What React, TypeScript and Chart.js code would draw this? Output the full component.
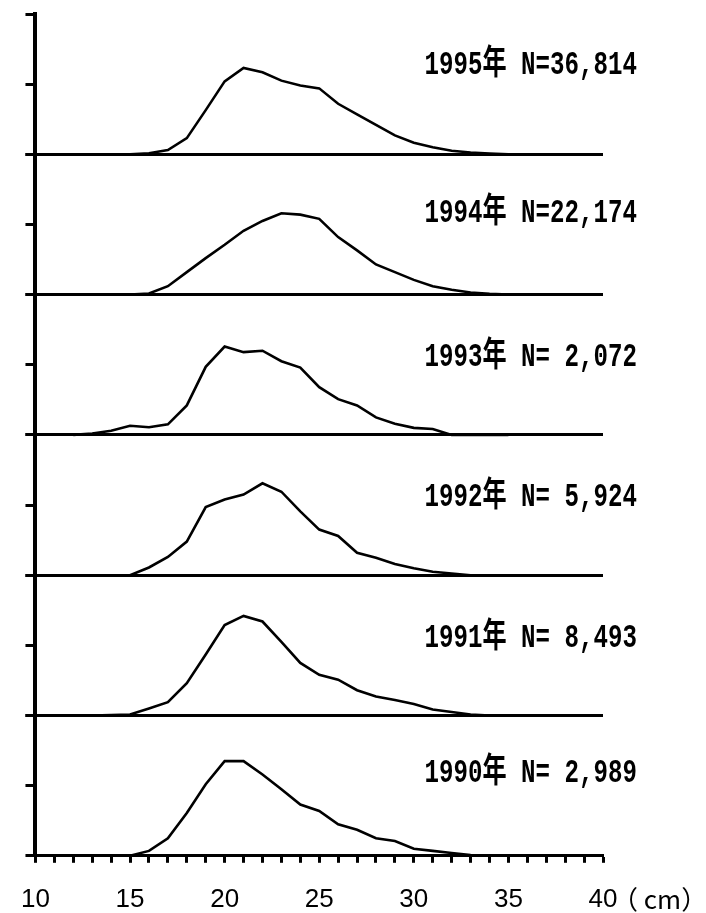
import React, { useEffect, useRef } from 'react';
import { Chart, registerables } from 'chart.js';

Chart.register(...registerables);

// Body length classes (cm)
const lengthsCm = [12, 13, 14, 15, 16, 17, 18, 19, 20, 21, 22, 23, 24, 25, 26, 27, 28, 29, 30, 31, 32, 33, 34, 35];

// Panel titles, top to bottom
const years = ['1995', '1994', '1993', '1992', '1991', '1990'];
const sampleSizes = ['36,814', '22,174', ' 2,072', ' 5,924', ' 8,493', ' 2,989'];

// Relative frequency (%) per length class
const freq1995 = [0, 0, 0, 0, 0.15, 0.6, 2.3, 6.3, 10.4, 12.3, 11.7, 10.5, 9.8, 9.4, 7.2, 5.7, 4.2, 2.7, 1.65, 1.0, 0.5, 0.25, 0.1, 0];
const freq1994 = [0, 0, 0, 0, 0.15, 1.2, 3.2, 5.2, 7.1, 9.1, 10.5, 11.6, 11.4, 10.8, 8.2, 6.3, 4.3, 3.2, 2.1, 1.2, 0.7, 0.3, 0.1, 0];
const freq1993 = [0, 0.2, 0.6, 1.3, 1.1, 1.5, 4.2, 9.7, 12.6, 11.8, 12.0, 10.5, 9.6, 6.8, 5.1, 4.2, 2.5, 1.6, 1.0, 0.85, 0, 0, 0, 0];
const freq1992 = [0, 0, 0, 0, 1.1, 2.6, 4.8, 9.7, 10.8, 11.5, 13.1, 11.9, 9.1, 6.5, 5.6, 3.2, 2.5, 1.6, 1.0, 0.5, 0.25, 0, 0, 0];
const freq1991 = [0, 0, 0.05, 0.15, 1.0, 1.9, 4.6, 8.7, 12.9, 14.2, 13.4, 10.5, 7.5, 5.8, 5.1, 3.6, 2.7, 2.2, 1.65, 0.85, 0.5, 0.15, 0, 0];
const freq1990 = [0, 0, 0, 0, 0.7, 2.5, 6.1, 10.2, 13.5, 13.5, 11.6, 9.5, 7.3, 6.4, 4.5, 3.7, 2.5, 2.1, 1.0, 0.7, 0.4, 0.1, 0, 0];

const panelSeries = [freq1995, freq1994, freq1993, freq1992, freq1991, freq1990];

// Axis ranges / ticks
const xMin = 10;
const xMax = 40;
const xLabelEvery = 5;
const yMax = 20;
const yStep = 10;
const xUnit = '（ cm）';

// layout of panel titles (px below each panel top)
const titleOffsets = [51, 59, 63, 63, 63, 58];

const panelLabelPlugin = {
  id: 'panelLabels',
  afterDraw(chart: any) {
    const ctx = chart.ctx;
    ctx.save();
    ctx.fillStyle = '#000';
    years.forEach((yr, i) => {
      const sc = chart.scales['y' + i];
      const text = yr + '年 N=' + sampleSizes[i];
      ctx.save();
      ctx.translate(637, sc.top + titleOffsets[i]);
      ctx.scale(0.71, 1);
      ctx.font = 'bold 34px "Liberation Mono", "Noto Sans CJK JP", monospace';
      ctx.textAlign = 'right';
      ctx.textBaseline = 'middle';
      ctx.fillText(text, 0, 0);
      ctx.restore();
    });
    const xs = chart.scales.x;
    ctx.font = '26px "Noto Sans CJK JP", sans-serif';
    ctx.textAlign = 'left';
    ctx.textBaseline = 'middle';
    ctx.fillText(xUnit, xs.right + 9, 899);
    ctx.restore();
  },
};

export default function App() {
  const canvasRef = useRef<HTMLCanvasElement | null>(null);

  useEffect(() => {
    if (!canvasRef.current) return;

    const scales: any = {
      x: {
        type: 'linear',
        position: 'bottom',
        min: xMin,
        max: xMax,
        ticks: {
          stepSize: 1,
          autoSkip: false,
          maxRotation: 0,
          padding: 21,
          color: '#000',
          font: { family: '"Liberation Sans", Arial, sans-serif', size: 26 },
          callback: (v: any) => (Number(v) % xLabelEvery === 0 ? String(v) : ''),
        },
        grid: {
          display: true,
          drawOnChartArea: false,
          drawTicks: true,
          tickLength: 7,
          tickWidth: 3,
          tickColor: '#000',
          color: '#000',
        },
        border: { display: true, color: '#000', width: 3 },
      },
    };

    years.forEach((_, i) => {
      scales['y' + i] = {
        type: 'linear',
        position: 'left',
        stack: 'panels',
        stackWeight: 1,
        weight: years.length - i,
        min: 0,
        max: yMax,
        ticks: { stepSize: yStep, display: false },
        grid: {
          display: true,
          drawOnChartArea: true,
          drawTicks: true,
          tickLength: 10,
          tickWidth: 3,
          tickColor: '#000',
          color: (c: any) => (c.tick && c.tick.value === 0 ? '#000' : 'rgba(0,0,0,0)'),
          lineWidth: (c: any) => (c.tick && c.tick.value === 0 ? 3 : 1),
        },
        border: { display: true, color: '#000', width: 4 },
      };
    });

    const datasets = panelSeries.map((vals, i) => ({
      label: years[i],
      data: lengthsCm.map((x, k) => ({ x, y: vals[k] })),
      yAxisID: 'y' + i,
      borderColor: '#000',
      borderWidth: 2.6,
      pointRadius: 0,
      tension: 0,
      fill: false,
      clip: false as any,
    }));

    const chart = new Chart(canvasRef.current, {
      type: 'line',
      data: { datasets },
      options: {
        animation: false,
        responsive: false,
        maintainAspectRatio: false,
        devicePixelRatio: 1,
        layout: { padding: { top: 14, left: 21, right: 103, bottom: -23 } },
        plugins: {
          legend: { display: false },
          tooltip: { enabled: false },
          title: { display: false },
        },
        scales,
      },
      plugins: [panelLabelPlugin],
    });

    return () => chart.destroy();
  }, []);

  return (
    <div style={{ position: 'absolute', left: 0, top: 0, width: 706, height: 913, background: '#fff' }}>
      <canvas ref={canvasRef} width={706} height={913} style={{ display: 'block' }} />
    </div>
  );
}
